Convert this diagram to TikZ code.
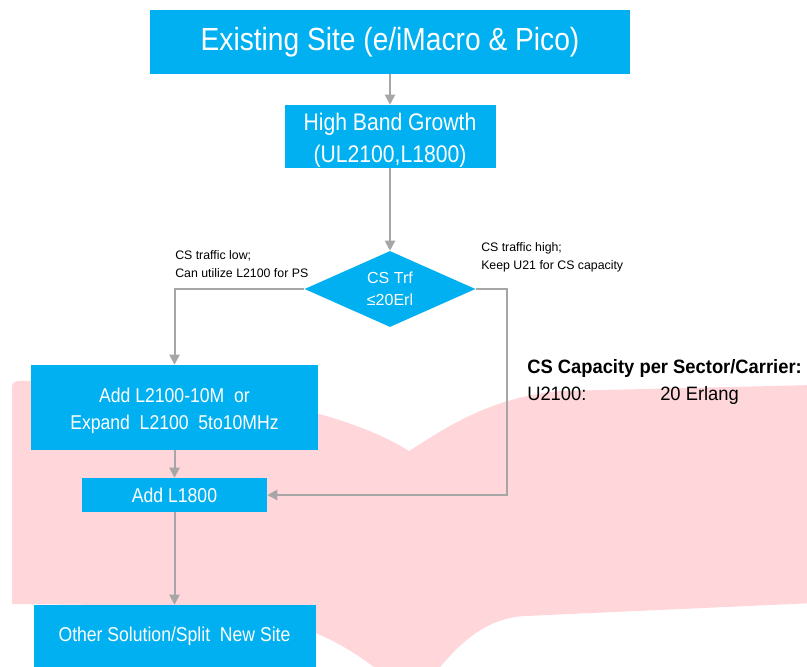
\documentclass[tikz,border=0pt]{standalone}
\usepackage{fontspec}
\setmainfont{Liberation Sans}
\newfontfamily\nfont[FakeStretch=0.88]{Liberation Sans}
\newfontfamily\cfont[FakeStretch=0.95]{Liberation Sans}
\usetikzlibrary{shapes.geometric,arrows.meta}
\definecolor{boxblue}{RGB}{0,176,240}
\definecolor{pinkband}{RGB}{255,214,218}
\definecolor{arrowgray}{RGB}{166,166,166}
\begin{document}
\begin{tikzpicture}[x=0.75pt,y=-0.75pt,
  box/.style={fill=boxblue,text=white,inner sep=0pt,align=center},
  conn/.style={draw=arrowgray,line width=1.5pt,-{Triangle[length=7.5pt,width=7.5pt]}},
  lbl/.style={inner sep=0pt,align=left,font=\fontsize{9.25}{13.5}\selectfont},
  captxt/.style={inner sep=0pt,anchor=base west,font=\cfont\fontsize{14.5}{17}\selectfont}]
\useasboundingbox (0,0) rectangle (807,667);
% pink band
\begin{scope}
\clip (0,0) rectangle (807,667);
\fill[pinkband] (12,388) .. controls (12,383) and (14,381) .. (20,381)
  .. controls (150,379) and (325,398) .. (409,451)
  .. controls (450,425) and (490,398) .. (560,391)
  -- (815,385) -- (815,603) -- (525,616)
  .. controls (488,618) and (460,640) .. (430,680)
  -- (430,700) -- (400,700) -- (400,690)
  .. controls (360,650) and (300,614) .. (200,606)
  -- (12,604) -- cycle;
\end{scope}
% boxes
\node[box,minimum width=360pt,minimum height=48pt,font=\nfont\fontsize{24}{28}\selectfont] (top) at (390,42) {Existing Site (e/iMacro \& Pico)};
\node[box,minimum width=158.25pt,minimum height=47.25pt,font=\nfont\fontsize{18}{24}\selectfont] (hb) at (390,136.5) {\rule{0pt}{18.3pt}High Band Growth\\(UL2100,L1800)};
\node[shape=diamond,fill=boxblue,text=white,inner sep=0pt,aspect=2.25,minimum width=128.25pt,minimum height=57pt,align=center,font=\fontsize{12}{16.5}\selectfont] (dia) at (390,289) {CS Trf\\≤20Erl};
\node[box,minimum width=215.25pt,minimum height=63.75pt,font=\nfont\fontsize{15}{20.25}\selectfont] (l21) at (174.5,407.5) {\rule{0pt}{15.4pt}Add L2100-10M\ \ or\\Expand\ \ L2100\ \ 5to10MHz};
\node[box,minimum width=138.75pt,minimum height=25.5pt,font=\nfont\fontsize{15}{18}\selectfont] (l18) at (174.5,495) {Add L1800};
\node[box,minimum width=211.5pt,minimum height=46.5pt,font=\nfont\fontsize{15}{18}\selectfont] (oth) at (174.5,636) {Other Solution/Split\ \ New Site};
% labels
\node[lbl,anchor=west] (lowlbl) at (175,264) {CS traffic low;\\Can utilize L2100 for PS};
\node[lbl,anchor=west] (highlbl) at (481,257) {CS traffic high;\\Keep U21 for CS capacity};
\node[captxt,font=\cfont\bfseries\fontsize{14.5}{17}\selectfont] (cap) at (527,373) {CS Capacity per Sector/Carrier:};
\node[captxt] (u21) at (527,400) {U2100:};
\node[captxt] (erl) at (660,400) {20 Erlang};
% connectors
\coordinate (rt) at (507,495);
\draw[conn] (top) -- (hb);
\draw[conn] (hb) -- (dia.north);
\draw[conn] (dia.west) -| (l21.north);
\draw[conn] (dia.east) -| (rt) -- (l18.east);
\draw[conn] (l21) -- (l18);
\draw[conn] (l18) -- (oth);
\end{tikzpicture}
\end{document}
